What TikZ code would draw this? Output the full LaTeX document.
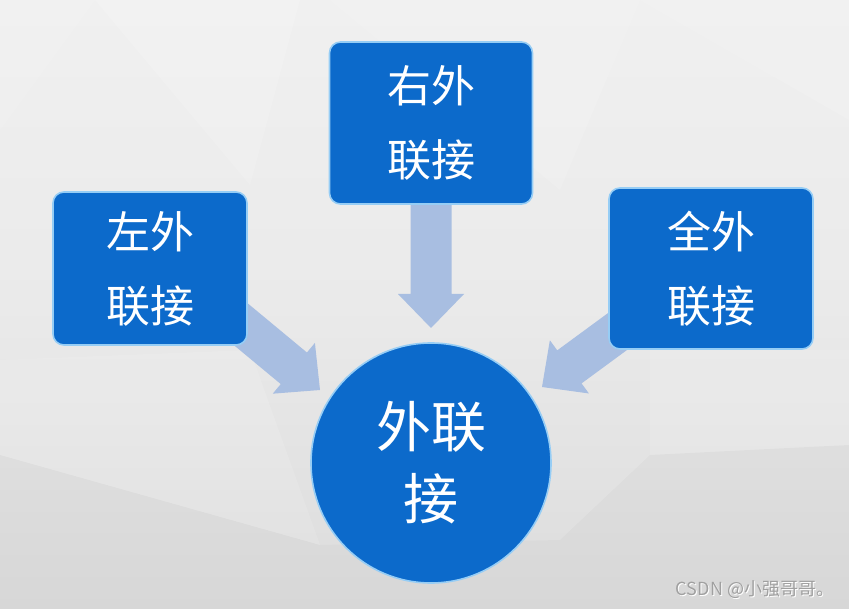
\documentclass[tikz,border=0pt]{standalone}
\usepackage{fontspec}
\newfontfamily\cjk{Noto Sans CJK SC}
\usetikzlibrary{calc}
\definecolor{boxblue}{RGB}{12,106,203}
\definecolor{rimblue}{RGB}{150,205,245}
\definecolor{arrowc}{RGB}{168,190,225}
\definecolor{wmgray}{RGB}{160,160,160}
\definecolor{bgtop}{RGB}{240,240,240}
\definecolor{bgmid}{RGB}{234,234,234}
\definecolor{bgbot}{RGB}{220,220,220}
\newcommand\fatarrow[2]{%
  \coordinate (h#1#2) at ($(#2)!34pt!(#1)$);
  \fill[arrowc] ($(#1)!20.5pt!90:(#2)$) -- ($(h#1#2)!20.5pt!-90:(#1)$)
    -- ($(h#1#2)!33pt!-90:(#1)$) -- (#2) -- ($(h#1#2)!33pt!90:(#1)$)
    -- ($(h#1#2)!20.5pt!90:(#1)$) -- ($(#1)!20.5pt!-90:(#2)$) -- cycle;}
\tikzset{
  blockbox/.style={draw=rimblue, line width=1.6pt, fill=boxblue, rounded corners=11pt,
    text=white, align=center, inner sep=0pt, font=\cjk\fontsize{44}{74}\selectfont},
  hubcircle/.style={circle, draw=rimblue, line width=1.6pt, fill=boxblue, text=white,
    align=center, inner sep=0pt, minimum size=240pt, font=\cjk\fontsize{55}{72}\selectfont},
}
\begin{document}
\begin{tikzpicture}[x=1pt,y=-1pt]
\useasboundingbox (0,0) rectangle (849,609);
% background
\shade[top color=bgtop, bottom color=bgbot, middle color=bgmid] (0,0) rectangle (849,609);
\fill[white, opacity=0.14] (95,0) -- (300,0) -- (250,185) -- cycle;
\fill[white, opacity=0.12] (330,0) -- (640,0) -- (560,190) -- cycle;
\fill[white, opacity=0.12] (640,0) -- (849,0) -- (849,120) -- cycle;
\fill[white, opacity=0.10] (0,0) -- (95,0) -- (0,130) -- cycle;
\fill[white, opacity=0.12] (0,360) -- (250,350) -- (320,545) -- (0,455) -- cycle;
\fill[white, opacity=0.12] (650,350) -- (849,350) -- (849,445) -- (650,455) -- cycle;
\fill[black, opacity=0.02] (0,455) -- (320,545) -- (560,540) -- (650,455) -- (849,445) -- (849,609) -- (0,609) -- cycle;
% anchors for arrows
\coordinate (ls) at (220,307);
\coordinate (lt) at (320,390);
\coordinate (ts) at (431,200);
\coordinate (tt) at (431,328);
\coordinate (rs) at (655,304);
\coordinate (rt) at (542,387);
\fatarrow{ls}{lt}
\fatarrow{ts}{tt}
\fatarrow{rs}{rt}
% blocks
\node[blockbox, minimum width=194pt, minimum height=153pt] (left) at (150,268.5) {左外\\联接};
\node[blockbox, minimum width=203pt, minimum height=162pt] (top) at (431,123) {右外\\联接};
\node[blockbox, minimum width=204pt, minimum height=161pt] (right) at (711,268.5) {全外\\联接};
\node[hubcircle] (hub) at (431,463) {外联\\接};
% watermark
\node[text=white, font=\cjk\fontsize{18}{20}\selectfont] (wms) at (756,591) {CSDN @小强哥哥。};
\node[text=wmgray, font=\cjk\fontsize{18}{20}\selectfont] (wm) at (755,590) {CSDN @小强哥哥。};
\end{tikzpicture}
\end{document}
